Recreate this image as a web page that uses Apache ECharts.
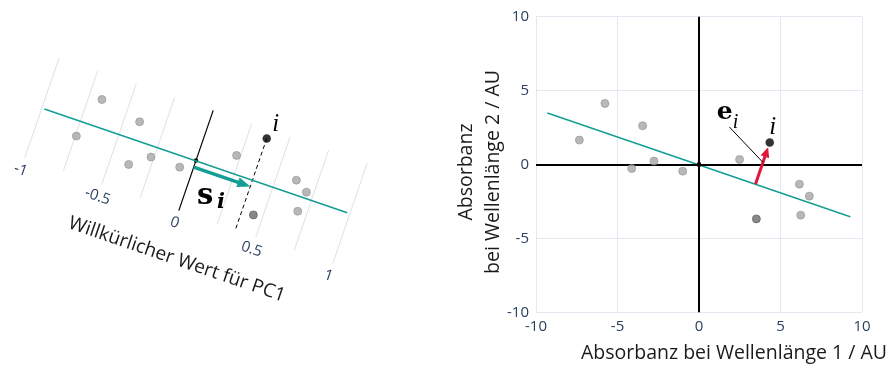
<!DOCTYPE html>
<html><head><meta charset="utf-8">
<script src="https://cdn.jsdelivr.net/npm/echarts@6/dist/echarts.min.js"></script>
<style>html,body{margin:0;padding:0;background:#fff}#c{width:895px;height:368px}</style>
</head><body><div id="c"></div>
<script>
// ---- data ----
const pointsX = [-7.34, -5.77, -4.13, -3.46, -2.76, -1.00, 2.49, 6.16, 6.77, 6.24];
const pointsY = [1.65, 4.13, -0.27, 2.62, 0.23, -0.45, 0.34, -1.33, -2.14, -3.43];
const darkPoint = [3.52, -3.68];
const pointI = [4.34, 1.49];
const pcLineX = [-9.30, 9.28];
const pcLineY = [3.49, -3.54];
const pcTicks = [-1, -0.75, -0.5, -0.25, 0, 0.25, 0.5, 0.75, 1];
const pcTickLabels = [-1, -0.5, 0, 0.5, 1];
const pcUnit = 10.1;            // data units per PC1 unit
const axisTicks = [-10, -5, 0, 5, 10];
const eLabelAnchor = [1.86, 2.54];

const TEAL = '#139e95', RED = '#e0163f', GRID = '#e4e9f1', TICK = '#2a3f5f';
const FONT = 'Open Sans';
const scatterData = pointsX.map((x, k) => [x, pointsY[k]]);
const lineData = pcLineX.map((x, k) => [x, pcLineY[k]]);

function geom(api) {
  const a = api.coord(lineData[0]), b = api.coord(lineData[1]);
  const L = Math.hypot(b[0] - a[0], b[1] - a[1]);
  const d = [(b[0] - a[0]) / L, (b[1] - a[1]) / L];
  const n = [-d[1], d[0]];
  const O = api.coord([0, 0]);
  const dx = pcLineX[1] - pcLineX[0], dy = pcLineY[1] - pcLineY[0], dl = Math.hypot(dx, dy);
  const u = [dx / dl, dy / dl];
  const P = api.coord(pointI);
  const along = (P[0] - O[0]) * d[0] + (P[1] - O[1]) * d[1];
  const Q = [O[0] + along * d[0], O[1] + along * d[1]];
  return { d, n, O, u, P, Q };
}
function arrow(from, to, color, w, hl, hw) {
  const L = Math.hypot(to[0] - from[0], to[1] - from[1]);
  const e = [(to[0] - from[0]) / L, (to[1] - from[1]) / L];
  const p = [-e[1], e[0]];
  const base = [to[0] - e[0] * hl, to[1] - e[1] * hl];
  return [
    { type: 'line', shape: { x1: from[0], y1: from[1], x2: base[0] + e[0], y2: base[1] + e[1] }, style: { stroke: color, lineWidth: w } },
    { type: 'polygon', shape: { points: [to, [base[0] + p[0] * hw, base[1] + p[1] * hw], [base[0] - p[0] * hw, base[1] - p[1] * hw]] }, style: { fill: color } }
  ];
}

function renderPC(params, api) {
  const g = geom(api);
  const { d, n, O, u, P, Q } = g;
  const rot = -Math.atan2(d[1], d[0]);
  const ch = [];
  pcTicks.forEach(t => {
    const c = api.coord([t * pcUnit * u[0], t * pcUnit * u[1]]);
    const h = 53;
    ch.push({ type: 'line', z2: t === 0 ? 5 : 1,
      shape: { x1: c[0] - n[0] * h, y1: c[1] - n[1] * h, x2: c[0] + n[0] * h, y2: c[1] + n[1] * h },
      style: { stroke: t === 0 ? '#000' : '#dce1ea', lineWidth: t === 0 ? 1.2 : 1 } });
  });
  pcTickLabels.forEach(t => {
    const c = api.coord([t * pcUnit * u[0], t * pcUnit * u[1]]);
    ch.push({ type: 'text', x: c[0] + n[0] * 66, y: c[1] + n[1] * 66, rotation: rot,
      style: { text: String(t), fill: TICK, font: '15px "' + FONT + '"', align: 'center', verticalAlign: 'middle' } });
  });
  // axis title
  ch.push({ type: 'text', x: O[0] + d[0] * 14 + n[0] * 100, y: O[1] + d[1] * 14 + n[1] * 100, rotation: rot,
    style: { text: 'Willkürlicher Wert für PC1', fill: '#1a1a1a', font: '19px "' + FONT + '"', align: 'center', verticalAlign: 'middle' } });
  // dashed projection line
  const end = [Q[0] + n[0] * 53, Q[1] + n[1] * 53];
  ch.push({ type: 'line', z2: 4, shape: { x1: P[0], y1: P[1], x2: end[0], y2: end[1] },
    style: { stroke: '#000', lineWidth: 1, lineDash: [4, 3] } });
  // s_i arrow
  arrow([O[0] + n[0] * 7, O[1] + n[1] * 7], [Q[0] + n[0] * 7, Q[1] + n[1] * 7], TEAL, 3.5, 13, 5)
    .forEach(e => { e.z2 = 6; ch.push(e); });
  ch.push({ type: 'text', x: O[0] + 1, y: O[1] + 36, z2: 7,
    style: { text: 's', fill: '#000', font: 'bold 29px "DejaVu Serif"', align: 'left', verticalAlign: 'middle' } });
  ch.push({ type: 'text', x: O[0] + 21, y: O[1] + 42, z2: 7,
    style: { text: 'i', fill: '#000', font: 'bold italic 21px "DejaVu Serif"', align: 'left', verticalAlign: 'middle' } });
  // i label
  ch.push({ type: 'text', x: P[0] + 9, y: P[1] - 14, z2: 7,
    style: { text: 'i', fill: '#000', font: 'italic 25px "Liberation Serif"', align: 'center', verticalAlign: 'middle' } });
  // origin dot
  ch.push({ type: 'circle', z2: 8, shape: { cx: O[0], cy: O[1], r: 2.2 }, style: { fill: '#000' } });
  return { type: 'group', children: ch };
}

function renderE(params, api) {
  const { O, P, Q } = geom(api);
  const ch = [];
  const L = Math.hypot(P[0] - Q[0], P[1] - Q[1]);
  const tip = [P[0] - (P[0] - Q[0]) / L * 5, P[1] - (P[1] - Q[1]) / L * 5];
  arrow(Q, tip, RED, 3, 10, 4.5).forEach(e => ch.push(e));
  const A = api.coord(eLabelAnchor);
  const M = [Q[0] + 0.52 * (P[0] - Q[0]), Q[1] + 0.52 * (P[1] - Q[1])];
  ch.push({ type: 'line', shape: { x1: A[0], y1: A[1], x2: M[0], y2: M[1] }, style: { stroke: '#000', lineWidth: 1 } });
  ch.push({ type: 'text', x: A[0] - 4.5, y: A[1] - 14, style: { text: 'e', fill: '#000', font: 'bold 25px "DejaVu Serif"', align: 'center', verticalAlign: 'middle' } });
  ch.push({ type: 'text', x: A[0] + 3.5, y: A[1] - 4, style: { text: 'i', fill: '#000', font: 'italic 20px "Liberation Serif"', align: 'left', verticalAlign: 'middle' } });
  ch.push({ type: 'text', x: P[0] + 3, y: P[1] - 15, style: { text: 'i', fill: '#000', font: 'italic 25px "Liberation Serif"', align: 'center', verticalAlign: 'middle' } });
  ch.push({ type: 'rect', shape: { x: O[0] - 2, y: O[1] - 2, width: 4, height: 4 }, style: { fill: '#000' } });
  return { type: 'group', children: ch };
}

const valAxis = (gi, show) => ({
  type: 'value', gridIndex: gi, min: -10, max: 10, interval: 5, show: show,
  axisLine: { show: false }, axisTick: { show: false },
  axisLabel: { color: TICK, fontSize: 15, fontFamily: FONT, margin: 7 },
  splitLine: { show: true, lineStyle: { color: GRID, width: 1 } }
});

function ptSeries(gi) {
  return [
    { type: 'scatter', xAxisIndex: gi, yAxisIndex: gi, data: scatterData, symbolSize: 8, z: 5,
      itemStyle: { color: '#a6a6a6', borderColor: '#929292', borderWidth: 0.8 }, silent: true },
    { type: 'scatter', xAxisIndex: gi, yAxisIndex: gi, data: [darkPoint], symbolSize: 8, z: 5,
      itemStyle: { color: '#6a6a6a', borderColor: '#5a5a5a', borderWidth: 0.8 }, silent: true },
    { type: 'scatter', xAxisIndex: gi, yAxisIndex: gi, data: [pointI], symbolSize: 8.5, z: 6,
      itemStyle: { color: '#000' }, silent: true },
    { type: 'line', xAxisIndex: gi, yAxisIndex: gi, data: lineData, symbol: 'none', z: 3,
      lineStyle: { color: TEAL, width: 1.5 }, silent: true, animation: false }
  ];
}

const chart = echarts.init(document.getElementById('c'), null, { renderer: 'canvas' });
chart.setOption({
  animation: false,
  backgroundColor: '#fff',
  grid: [
    { left: 33, top: 12.7, width: 326, height: 295.6 },
    { left: 536, top: 16.7, width: 326, height: 295.6 }
  ],
  xAxis: [valAxis(0, false), valAxis(1, true)],
  yAxis: [valAxis(0, false), valAxis(1, true)],
  series: [
    { type: 'custom', xAxisIndex: 0, yAxisIndex: 0, data: [[0, 0]], renderItem: renderPC, z: 2, silent: true },
    ...ptSeries(0),
    { type: 'line', xAxisIndex: 1, yAxisIndex: 1, data: [], z: 4, silent: true,
      markLine: { symbol: 'none', silent: true, label: { show: false },
        lineStyle: { color: '#000', width: 2, type: 'solid' },
        data: [{ xAxis: 0 }, { yAxis: 0 }] } },
    ...ptSeries(1),
    { type: 'custom', xAxisIndex: 1, yAxisIndex: 1, data: [[0, 0]], renderItem: renderE, z: 7, silent: true }
  ],
  graphic: [
    { type: 'text', right: 8, top: 343, style: { text: 'Absorbanz bei Wellenlänge 1 / AU', fill: '#1a1a1a', font: '19.5px "Open Sans"' } },
    { type: 'text', x: 480, y: 172, rotation: Math.PI / 2,
      style: { text: 'Absorbanz\nbei Wellenlänge 2 / AU', fill: '#1a1a1a', font: '19.5px "Open Sans"', lineHeight: 27, align: 'center', verticalAlign: 'middle' } }
  ]
});
</script></body></html>
